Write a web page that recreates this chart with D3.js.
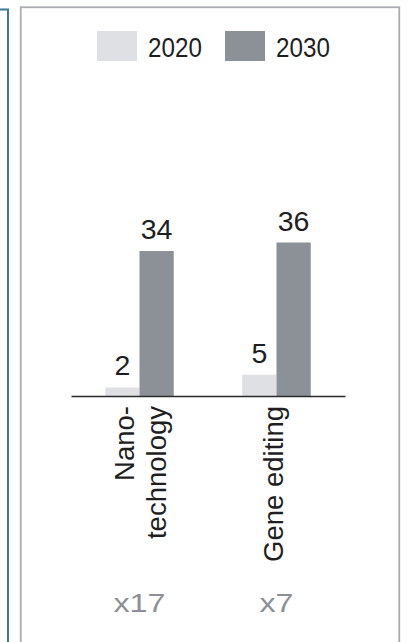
<!DOCTYPE html>
<html>
<head>
<meta charset="utf-8">
<script src="https://cdn.jsdelivr.net/npm/d3@7.9.0/dist/d3.min.js"></script>
<style>
  html, body { margin: 0; padding: 0; background: #fff; }
  svg { display: block; font-family: "Liberation Sans", Arial, sans-serif; }
</style>
</head>
<body>
<svg id="chart" width="411" height="642"></svg>
<script>
// Data
const categories = ['Nano-\ntechnology', 'Gene editing'];
const years = ['2020', '2030'];
const values2020 = [2, 5];
const values2030 = [34, 36];
const multipliers = ['x17', 'x7'];

const colors = d3.scaleOrdinal().domain(years).range(['#dfe0e3', '#8c9097']);

const svg = d3.select('#chart');

// frame lines
svg.append('path')
    .attr('d', 'M0,9.5 H8 V642')
    .attr('fill', 'none')
    .attr('stroke', '#3f7598')
    .attr('stroke-width', 2);

svg.append('rect')
    .attr('x', 20.75).attr('y', 7.25)
    .attr('width', 378.5).attr('height', 660)
    .attr('fill', 'none')
    .attr('stroke', '#a9acb1')
    .attr('stroke-width', 1.8);

// Scales
let x = d3.scaleBand()
    .domain(categories)
    .range([71, 345])
    .paddingInner(0.5)
    .paddingOuter(0.25);

let xSub = d3.scaleBand()
    .domain(years)
    .range([0, x.bandwidth()]);

let y = d3.scaleLinear()
    .domain([0, 36])
    .range([396, 242.5]);

// Bars
let rows = categories.map((c, i) => ({
    cat: c,
    vals: [
        { year: '2020', value: values2020[i] },
        { year: '2030', value: values2030[i] },
    ],
}));

let groups = svg.selectAll('g.group')
    .data(rows)
    .join('g')
    .attr('class', 'group')
    .attr('transform', (d) => `translate(${x(d.cat)},0)`);

groups.selectAll('rect')
    .data((d) => d.vals)
    .join('rect')
    .attr('x', (d) => xSub(d.year))
    .attr('y', (d) => y(d.value))
    .attr('width', xSub.bandwidth())
    .attr('height', (d) => y(0) - y(d.value))
    .attr('fill', (d) => colors(d.year));

groups.selectAll('text.value')
    .data((d) => d.vals)
    .join('text')
    .attr('class', 'value')
    .attr('x', (d) => xSub(d.year) + xSub.bandwidth() / 2)
    .attr('y', (d) => y(d.value) - 12)
    .attr('text-anchor', 'middle')
    .attr('font-size', 28.5)
    .attr('fill', '#1f1f1f')
    .text((d) => d.value);

// Axis line
let axis = svg.append('g')
    .attr('transform', `translate(0,${y(0)})`)
    .call(d3.axisBottom(x).tickSize(0).tickFormat(''));
axis.select('.domain')
    .attr('stroke', '#2b2b2b')
    .attr('stroke-width', 1.6);

// Category labels (rotated)
categories.forEach((c, i) => {
    let cx = x(c) + x.bandwidth() / 2;
    let lines = c.split('\n');
    let t = svg.append('text')
        .attr('transform', `translate(${cx},406) rotate(-90)`)
        .attr('text-anchor', 'end')
        .attr('font-size', 27.5)
        .attr('fill', '#1f1f1f');
    lines.forEach((line, j) => {
        t.append('tspan')
            .attr('x', 0)
            .attr('y', 6.7 - (lines.length - 1) * 12.7 + j * 32)
            .text(line);
    });
});

// Multiplier labels
multipliers.forEach((m, i) => {
    let cx = x(categories[i]) + x.bandwidth() / 2;
    svg.append('text')
        .attr('transform', `translate(${cx},611.5) scale(1.22,1)`)
        .attr('text-anchor', 'middle')
        .attr('font-size', 26.5)
        .attr('fill', '#8c9096')
        .text(m);
});

// Legend
let legend = svg.append('g');
let legendX = [97, 225];
years.forEach((yr, i) => {
    legend.append('rect')
        .attr('x', legendX[i]).attr('y', 31)
        .attr('width', 40).attr('height', 30)
        .attr('fill', colors(yr));
    legend.append('text')
        .attr('transform', `translate(${legendX[i] + 51},57.3) scale(0.85,1)`)
        .attr('font-size', 28.5)
        .attr('fill', '#1f1f1f')
        .text(yr);
});
</script>
</body>
</html>
